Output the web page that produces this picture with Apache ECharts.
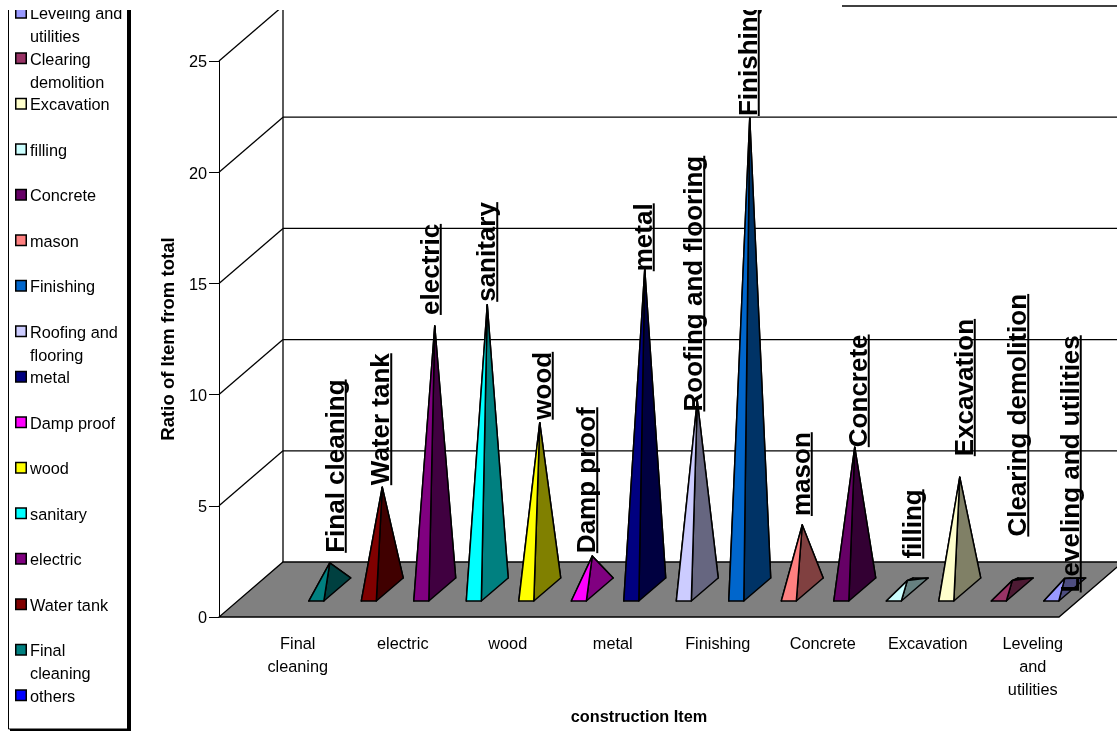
<!DOCTYPE html>
<html>
<head>
<meta charset="utf-8">
<style>
    html, body { margin: 0; padding: 0; background: #fff; }
    #container { width: 1117px; height: 731px; }
</style>
<script src="https://cdn.jsdelivr.net/npm/echarts@6/dist/echarts.min.js"></script>
</head>
<body>
<div id="container"></div>
<script>
// chart data (first band holds "others", which has no mark)
const categories = ['others', 'Final cleaning', 'Water tank', 'electric', 'sanitary', 'wood', 'Damp proof', 'metal',
    'Roofing and flooring', 'Finishing', 'mason', 'Concrete', 'filling', 'Excavation', 'Clearing demolition', 'Leveling and utilities'];
const ratios = [null, 1.2, 4.6, 11.85, 12.8, 7.5, 1.5, 14.4, 8.5, 21.2, 2.9, 6.4, 0.4, 5.05, 0.4, 0.5];
const barColors = ['#0000ff', '#008080', '#800000', '#800080', '#00ffff', '#ffff00', '#ff00ff', '#000080',
    '#ccccff', '#0066cc', '#ff8080', '#660066', '#ccffff', '#ffffcc', '#993366', '#9999ff'];
const yTicks = [0, 5, 10, 15, 20, 25];

// labels sit by hand in the original, so each has its own nudge from the pyramid tip
const labelNudgeX = [0, 16, 9, 6, 10, 13, 5, 9, 7, 9, 9.5, 14, 16, 15, 16, 16];
const labelNudgeY = [0, -10, -2, -11, -3, -3, -3, 2, 11, -2, -9, 0, -22, -21, -44, 14];

const FONT = '"Liberation Sans", Arial, sans-serif';
const LABEL_FONT = 'bold 26px ' + FONT;

// oblique depth of the 3D box
const DEPTH_X = 64;
const DEPTH_Y = 55;
// pyramid footprint
const BASE_W = 15;
const NEAR = 0.29;
const FAR = 0.71;

const measure = document.createElement('canvas').getContext('2d');

function shade(hex) {
    const n = parseInt(hex.slice(1), 16);
    const half = v => Math.round(v / 2).toString(16).padStart(2, '0');
    return '#' + half(n >> 16) + half((n >> 8) & 255) + half(n & 255);
}

function drawBox(params, api) {
    const children = [];
    const origin = api.coord([0, 0]);
    const bandW = api.size([1, 0])[0];
    const x0 = origin[0] - bandW / 2;
    const x1 = x0 + bandW * categories.length;
    const line = (a, b, w) => ({
        type: 'line',
        shape: { x1: a[0], y1: a[1], x2: b[0], y2: b[1] },
        style: { stroke: '#000', lineWidth: w || 1.3 }
    });
    yTicks.forEach(t => {
        const y = api.coord([0, t])[1];
        if (t > 0) {
            children.push(line([x0, y], [x0 + DEPTH_X, y - DEPTH_Y]));
            children.push(line([x0 + DEPTH_X, y - DEPTH_Y], [x1 + DEPTH_X, y - DEPTH_Y]));
        }
    });
    const top = api.coord([0, 25])[1];
    children.push(line([x0 + DEPTH_X, top - DEPTH_Y], [x0 + DEPTH_X, origin[1] - DEPTH_Y]));
    children.push({
        type: 'polygon',
        shape: { points: [[x0, origin[1]], [x1, origin[1]], [x1 + DEPTH_X, origin[1] - DEPTH_Y], [x0 + DEPTH_X, origin[1] - DEPTH_Y]] },
        style: { fill: '#808080', stroke: '#000', lineWidth: 1.3 }
    });
    return { type: 'group', children };
}

function drawPyramid(params, api) {
    const v = api.value(1);
    if (isNaN(v) || v === null) {
        return;
    }
    const i = api.value(0);
    const p = api.coord([i, 0]);
    const tipBase = api.coord([i, v]);
    const color = barColors[i];
    const dark = shade(color);
    const at = (side, depth) => [p[0] + side * BASE_W / 2 + depth * DEPTH_X, p[1] - depth * DEPTH_Y];
    const fl = at(-1, NEAR), fr = at(1, NEAR), br = at(1, FAR), bl = at(-1, FAR);
    const tip = [p[0] + 0.5 * DEPTH_X, tipBase[1] - 0.5 * DEPTH_Y];
    const face = (pts, fill) => ({
        type: 'polygon',
        shape: { points: pts },
        style: { fill, stroke: '#000', lineWidth: 1.5, lineJoin: 'round' }
    });
    return {
        type: 'group',
        children: [
            face([bl, br, tip], dark),
            face([fl, bl, tip], color),
            face([fr, br, tip], dark),
            face([fl, fr, tip], color)
        ]
    };
}

function drawLabel(params, api) {
    const v = api.value(1);
    if (isNaN(v) || v === null) {
        return;
    }
    const i = api.value(0);
    const p = api.coord([i, v]);
    const x = p[0] + 0.5 * DEPTH_X + labelNudgeX[i];
    const y = p[1] - 0.5 * DEPTH_Y + labelNudgeY[i];
    measure.font = LABEL_FONT;
    const len = measure.measureText(categories[i]).width;
    return {
        type: 'group',
        children: [{
            type: 'text',
            x: x + 4,
            y: y,
            rotation: Math.PI / 2,
            style: {
                text: categories[i],
                font: LABEL_FONT,
                fill: '#000',
                align: 'left',
                verticalAlign: 'bottom'
            }
        }, {
            type: 'line',
            shape: { x1: x, y1: y, x2: x, y2: y - len },
            style: { stroke: '#000', lineWidth: 2 }
        }]
    };
}

const seriesData = ratios.map((v, i) => [i, v]);

// legend runs from last category to first, wrapped by hand like the original
const legendNames = ['Leveling and\nutilities', 'Clearing\ndemolition', 'Excavation', 'filling', 'Concrete', 'mason', 'Finishing',
    'Roofing and\nflooring', 'metal', 'Damp proof', 'wood', 'sanitary', 'electric', 'Water tank', 'Final\ncleaning', 'others'];

function legendGraphics() {
    const out = [
        { type: 'rect', shape: { x: 8.5, y: -5, width: 119, height: 734 }, style: { fill: '#fff', stroke: '#000', lineWidth: 1 }, z: 50 },
        { type: 'rect', shape: { x: 127, y: -5, width: 4, height: 736 }, style: { fill: '#000' }, z: 50 },
        { type: 'rect', shape: { x: 10, y: 729, width: 121, height: 2 }, style: { fill: '#000' }, z: 50 }
    ];
    legendNames.forEach((name, k) => {
        const cy = 13 + 45.5 * k;
        const key = name.replace('\n', ' ');
        const idx = categories.indexOf(key);
        out.push({
            type: 'rect',
            shape: { x: 15.75, y: cy - 5.5, width: 10.5, height: 10.5 },
            style: { fill: barColors[idx], stroke: '#000', lineWidth: 1.5 },
            z: 51
        });
        out.push({
            type: 'text',
            x: 30,
            y: cy - 9.5,
            style: { text: name, font: '16.3px ' + FONT, fill: '#000', lineHeight: 23, align: 'left', verticalAlign: 'top' },
            z: 51
        });
    });
    // the picture is cropped along the top, only the far right keeps the 25 line
    out.push({ type: 'rect', shape: { x: 0, y: 0, width: 842, height: 10 }, style: { fill: '#fff' }, z: 90 });
    return out;
}

const chart = echarts.init(document.getElementById('container'));
chart.setOption({
    animation: false,
    backgroundColor: '#fff',
    grid: { left: 219, right: 58, top: 61, bottom: 114 },
    xAxis: {
        type: 'category',
        data: categories,
        name: 'construction Item',
        nameLocation: 'middle',
        nameGap: 93,
        nameTextStyle: { fontFamily: FONT, fontWeight: 'bold', fontSize: 16.3, color: '#000' },
        axisLine: { show: false },
        axisTick: { show: false },
        axisLabel: {
            interval: (i) => i % 2 === 1,
            formatter: (v) => v.replace(/ /g, '\n'),
            fontFamily: FONT,
            fontSize: 16.3,
            color: '#000',
            margin: 16,
            lineHeight: 23
        }
    },
    yAxis: {
        type: 'value',
        min: 0,
        max: 25,
        interval: 5,
        name: 'Ratio of Item from total',
        nameLocation: 'middle',
        nameGap: 40,
        nameRotate: 90,
        nameTextStyle: { fontFamily: FONT, fontWeight: 'bold', fontSize: 18.6, color: '#000' },
        axisLine: { show: true, lineStyle: { color: '#000', width: 1 } },
        axisTick: { show: true, length: 10, lineStyle: { color: '#000', width: 1 } },
        axisLabel: { fontFamily: FONT, fontSize: 16.3, color: '#000', margin: 12, verticalAlign: 'top', lineHeight: 4 },
        splitLine: { show: false }
    },
    series: [
        { type: 'custom', name: 'box', clip: false, silent: true, z: 1, data: [[0, 0]], renderItem: drawBox },
        { type: 'custom', name: 'pyramids', clip: false, z: 2, data: seriesData, encode: { x: 0, y: 1 }, renderItem: drawPyramid },
        { type: 'custom', name: 'labels', clip: false, z: 3, data: seriesData, encode: { x: 0, y: 1 }, renderItem: drawLabel }
    ],
    graphic: { elements: legendGraphics() }
});
</script>
</body>
</html>
